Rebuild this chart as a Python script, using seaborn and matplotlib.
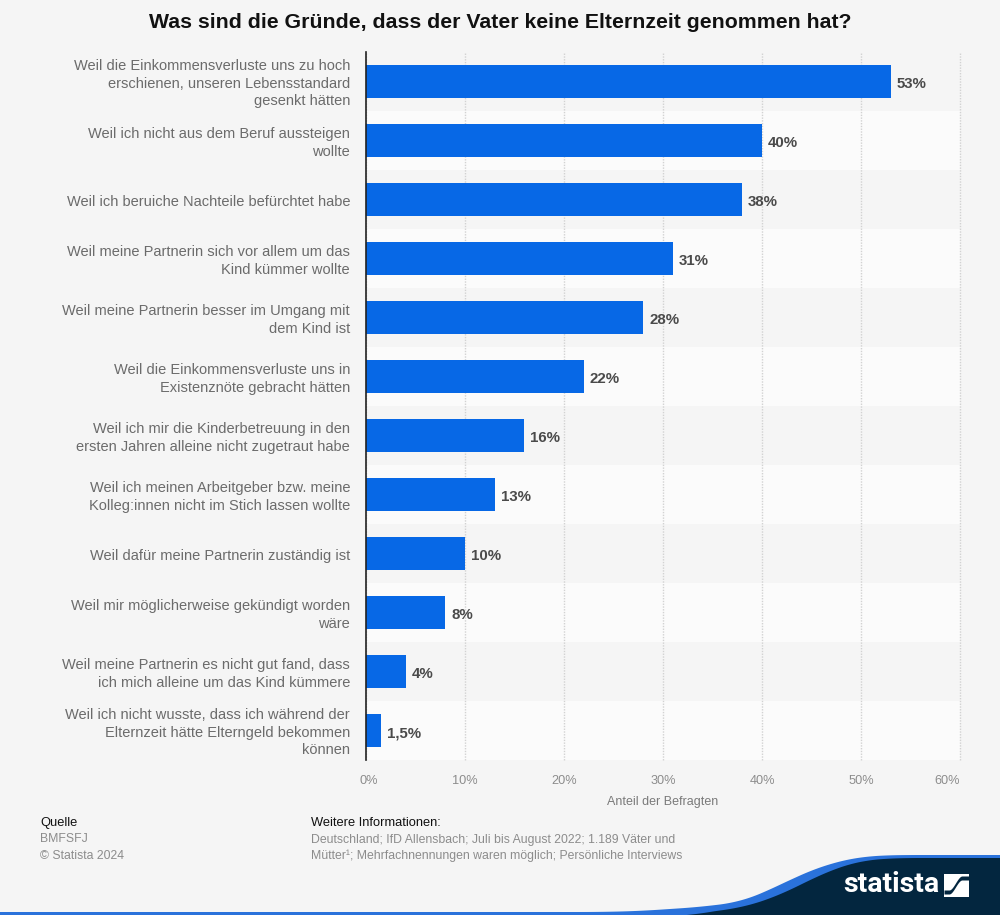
import numpy as np
import pandas as pd
import matplotlib.pyplot as plt
import matplotlib.transforms as mtrans
import seaborn as sns

# chart data
reasons = [
    "Weil die Einkommensverluste uns zu hoch\nerschienen, unseren Lebensstandard\ngesenkt hätten",
    "Weil ich nicht aus dem Beruf aussteigen\nwollte",
    "Weil ich beruiche Nachteile befürchtet habe",
    "Weil meine Partnerin sich vor allem um das\nKind kümmer wollte",
    "Weil meine Partnerin besser im Umgang mit\ndem Kind ist",
    "Weil die Einkommensverluste uns in\nExistenznöte gebracht hätten",
    "Weil ich mir die Kinderbetreuung in den\nersten Jahren alleine nicht zugetraut habe",
    "Weil ich meinen Arbeitgeber bzw. meine\nKolleg:innen nicht im Stich lassen wollte",
    "Weil dafür meine Partnerin zuständig ist",
    "Weil mir möglicherweise gekündigt worden\nwäre",
    "Weil meine Partnerin es nicht gut fand, dass\nich mich alleine um das Kind kümmere",
    "Weil ich nicht wusste, dass ich während der\nElternzeit hätte Elterngeld bekommen\nkönnen",
]
shares = [53, 40, 38, 31, 28, 22, 16, 13, 10, 8, 4, 1.5]
value_labels = ["53%", "40%", "38%", "31%", "28%", "22%", "16%", "13%", "10%", "8%", "4%", "1,5%"]
x_ticks = [0, 10, 20, 30, 40, 50, 60]

BG = "#f5f5f5"
BLUE = "#0768e6"
NAVY = "#03263f"

sns.set_style("white")
plt.rcParams['font.family'] = ['Liberation Sans', 'DejaVu Sans']

df = pd.DataFrame({'reason': reasons, 'share': shares})

fig = plt.figure(figsize=(10, 9.15), dpi=100, facecolor=BG)
ax = fig.add_axes([0.366, 1 - 760 / 915, 0.594, 708 / 915], facecolor=BG)

# striped rows
for i in range(len(reasons)):
    if i % 2 == 1:
        ax.axhspan(i - 0.5, i + 0.5, color="#fbfbfb", lw=0, zorder=0)

sns.barplot(data=df, x='share', y='reason', color=BLUE, saturation=1, width=0.565,
            linewidth=0, ax=ax, zorder=3)

ax.set_xlim(0, 60)
ax.set_ylim(len(reasons) - 0.5, -0.5)
ax.set_xticks(x_ticks)
ax.set_xticklabels([f"{t}%" for t in x_ticks], fontsize=9.2, color="#8c8c8c")
ax.tick_params(axis='x', length=0, pad=11)
ax.tick_params(axis='y', length=0, pad=11.5, labelsize=10.55, labelcolor="#6b6b6b")

# nudge the category labels, single line ones sit a bit lower
for lab in ax.get_yticklabels():
    lab.set_linespacing(1.32)
    dy = 0.6 if "\n" in lab.get_text() else -0.8
    lab.set_transform(lab.get_transform() + mtrans.ScaledTranslation(0, dy / 72, fig.dpi_scale_trans))

xlabs = ax.get_xticklabels()
xlabs[0].set_transform(xlabs[0].get_transform() + mtrans.ScaledTranslation(1.8 / 72, 0, fig.dpi_scale_trans))
xlabs[-1].set_ha('right')

ax.xaxis.grid(True, color="#d2d2d2", linestyle=(0, (1, 1)), lw=1, zorder=1)
for gl in ax.get_xgridlines():
    gl.set_clip_on(False)
ax.set_axisbelow(True)
ax.set_xlabel("Anteil der Befragten", fontsize=9, color="#7a7a7a", labelpad=6)
ax.set_ylabel("")

for side in ['top', 'right', 'bottom']:
    ax.spines[side].set_visible(False)
ax.spines['left'].set_color("#222222")
ax.spines['left'].set_linewidth(1.2)
ax.spines['left'].set_zorder(5)

for i, (v, txt) in enumerate(zip(shares, value_labels)):
    ax.annotate(txt, (v, i), xytext=(4.3, -1.8), textcoords='offset points',
                va='center', ha='left', fontsize=10.8, fontweight='bold', color="#4a4a4a")

fig.text(0.5, 1 - 22 / 915, "Was sind die Gründe, dass der Vater keine Elternzeit genommen hat?",
         ha='center', va='center', fontsize=15.35, fontweight='bold', color="#111111")

# footer
fig.text(0.040, 1 - 823 / 915, "Quelle", fontsize=9.3, color="#111111", va='center')
fig.text(0.040, 1 - 839.5 / 915, "BMFSFJ", fontsize=8.8, color="#8c8c8c", va='center')
fig.text(0.040, 1 - 856 / 915, "© Statista 2024", fontsize=8.8, color="#8c8c8c", va='center')
fig.text(0.311, 1 - 823 / 915, "Weitere Informationen:", fontsize=9.3, color="#111111", va='center')
fig.text(0.311, 1 - 839.5 / 915, "Deutschland; IfD Allensbach; Juli bis August 2022; 1.189 Väter und",
         fontsize=8.8, color="#8c8c8c", va='center')
fig.text(0.311, 1 - 856 / 915, "Mütter¹; Mehrfachnennungen waren möglich; Persönliche Interviews",
         fontsize=8.8, color="#8c8c8c", va='center')

# brand band along the bottom
deco = fig.add_axes([0, 0, 1, 1], facecolor='none', zorder=-1)
deco.set_xlim(0, 1000)
deco.set_ylim(915, 0)
deco.axis('off')


def smooth(y, n=21):
    # moving average, edges padded so the ends stay flat
    pad = np.pad(y, n // 2, mode='edge')
    return np.convolve(pad, np.ones(n) / n, mode='valid')


wx = np.arange(0, 1001, 2)
blue_top = smooth(np.interp(wx, [0, 600, 640, 700, 740, 760, 780, 800, 820, 840, 860, 880, 900, 1000],
                            [912, 912, 911, 907, 902, 894, 885, 875, 867, 861, 857, 855.5, 855, 855]))
navy_top = smooth(np.interp(wx, [0, 690, 700, 740, 760, 780, 800, 820, 840, 860, 880, 900, 1000],
                            [916, 916, 913, 908, 902, 895, 885, 875, 867, 861, 859, 858, 858]))
deco.fill_between(wx, blue_top, 915, color="#2a72db", lw=0)
deco.fill_between(wx, navy_top, 915, color=NAVY, lw=0)

# logo
deco.text(843, 885, "statista", fontsize=20.5, fontweight='bold', color="white",
          family='Roboto', va='center', ha='left')
deco.fill_between([944, 969], 874, 897, color="white", lw=0)
sx = np.linspace(944, 969, 60)
ss = np.clip((sx - 949) / 13, 0, 1)
curve = 892 - 14 * (ss * ss * (3 - 2 * ss))
deco.fill_between(sx, curve - 2, curve + 2, color=NAVY, lw=0)

fig.savefig("out.png", dpi=100, facecolor=BG)
